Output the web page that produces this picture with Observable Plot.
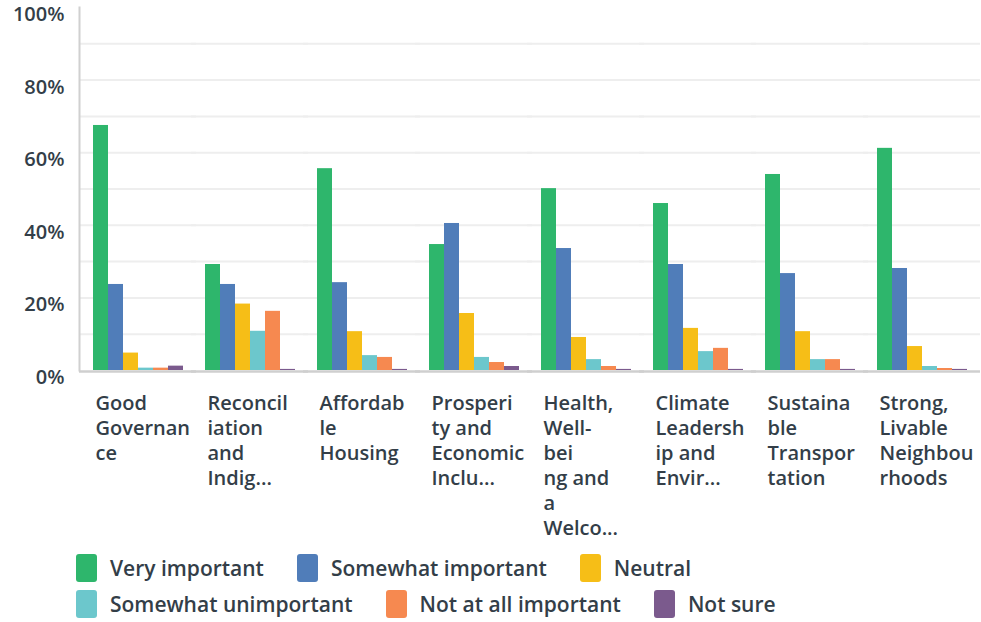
<!DOCTYPE html>
<html>
<head>
<meta charset="utf-8">
<script src="https://cdn.jsdelivr.net/npm/d3@7"></script>
<script src="https://cdn.jsdelivr.net/npm/@observablehq/plot@0.6"></script>
<style>
  body { margin: 0; background: #fff; }
  #chart svg { display: block; }
  .lg-swatches { font-family: "Open Sans", sans-serif !important; font-size: 21px !important; font-weight: 600 !important; color: #333e48 !important; margin: 9px 0 0 0 !important; padding-left: 76px; width: 824px; }
  .lg-swatches-wrap { display: flex !important; flex-wrap: wrap !important; align-items: center !important; min-height: 0 !important; row-gap: 8px; }
  .lg-swatch { display: inline-flex !important; align-items: center !important; margin-right: 33px !important; height: 28px; }
  .lg-swatch > svg { margin-right: 13px !important; }
  .lg-swatch rect { rx: 3px; ry: 3px; }
</style>
</head>
<body>
<div id="chart"></div>
<script>
const categories = [
  "Good Governance",
  "Reconciliation and Indig...",
  "Affordable Housing",
  "Prosperity and Economic Inclu...",
  "Health, Well-being and a Welco...",
  "Climate Leadership and Envir...",
  "Sustainable Transportation",
  "Strong, Livable Neighbourhoods"
];
const tickLabels = [
  "Good\nGovernan\nce",
  "Reconcil\niation\nand\nIndig...",
  "Affordab\nle\nHousing",
  "Prosperi\nty and\nEconomic\nInclu...",
  "Health,\nWell-\nbei\nng and\na\nWelco...",
  "Climate\nLeadersh\nip and\nEnvir...",
  "Sustaina\nble\nTranspor\ntation",
  "Strong,\nLivable\nNeighbou\nrhoods"
];
const responses = ["Very important", "Somewhat important", "Neutral", "Somewhat unimportant", "Not at all important", "Not sure"];
const colors = ["#2eb66c", "#507db9", "#f6be17", "#6cc7cc", "#f68950", "#7b5a8d"];

const veryImportant       = [67.5, 29.2, 55.6, 34.7, 50.1, 46.0, 54.0, 61.2];
const somewhatImportant   = [23.7, 23.7, 24.2, 40.5, 33.6, 29.2, 26.7, 28.1];
const neutral             = [4.8, 18.3, 10.7, 15.7, 9.1, 11.6, 10.7, 6.6];
const somewhatUnimportant = [0.65, 10.8, 4.1, 3.6, 3.0, 5.2, 3.0, 1.1];
const notAtAllImportant   = [0.65, 16.3, 3.6, 2.2, 1.1, 6.1, 3.0, 0.55];
const notSure             = [1.2, 0.3, 0.3, 1.1, 0.3, 0.3, 0.3, 0.3];

const yTicks = [0, 20, 40, 60, 80, 100];
const gridTicks = [10, 20, 30, 40, 50, 60, 70, 80, 90];

const seriesValues = [veryImportant, somewhatImportant, neutral, somewhatUnimportant, notAtAllImportant, notSure];
const data = [];
categories.forEach((c, i) => {
  responses.forEach((r, j) => data.push({category: c, response: r, value: seriesValues[j][i]}));
});

const font = "'Open Sans', sans-serif";
const textColor = "#333e48";

const plot = Plot.plot({
  width: 981,
  height: 545,
  marginTop: 7,
  marginLeft: 78,
  marginRight: 0,
  marginBottom: 175,
  style: {fontFamily: font, background: "#fff"},
  fx: {domain: categories, paddingInner: 0.19, paddingOuter: 0.115, axis: null},
  x: {domain: responses, padding: 0, axis: null},
  y: {domain: [0, 100], axis: null},
  color: {domain: responses, range: colors},
  marks: [
    Plot.ruleY(gridTicks, {stroke: "#eeeeee", strokeWidth: 2, insetLeft: -13, insetRight: -13}),
    Plot.barY(data, {fx: "category", x: "response", y: "value", fill: "response"}),
    Plot.ruleY([0], {stroke: "#cfcfcf", strokeWidth: 2.5, dy: 1, insetLeft: -13, insetRight: -13}),
    Plot.frame({anchor: "left", facetAnchor: "left", insetLeft: -13, stroke: "#d0d0d0", strokeWidth: 2}),
    Plot.axisY({ticks: yTicks, tickFormat: d => d + "%", tickSize: 0, tickPadding: 28, dy: 7, label: null,
      fontSize: 20, fontWeight: 600, fill: textColor}),
    Plot.text(categories, {fx: d => d, text: (d, i) => tickLabels[i], frameAnchor: "bottom-left",
      textAnchor: "start", lineAnchor: "top", dx: 3, dy: 22, lineHeight: 1.25,
      fontSize: 20, fontWeight: 600, fill: textColor})
  ]
});

const legend = Plot.legend({
  color: {domain: responses, range: colors},
  legend: "swatches",
  swatchWidth: 21,
  swatchHeight: 28,
  className: "lg"
});

const root = document.getElementById("chart");
root.appendChild(plot);
root.appendChild(legend);
</script>
</body>
</html>
